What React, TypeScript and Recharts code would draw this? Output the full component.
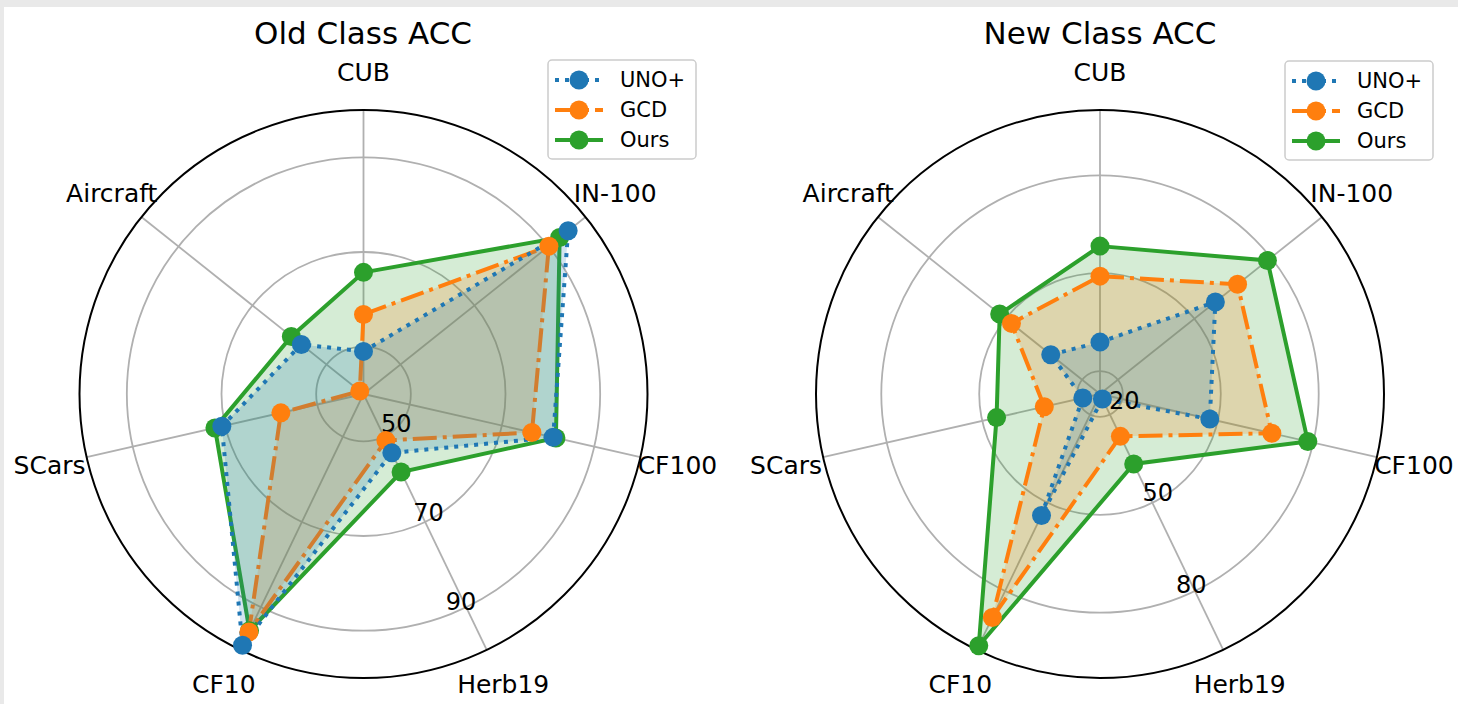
import React from "react";
import { RadarChart, Radar, PolarGrid, PolarAngleAxis, PolarRadiusAxis } from "recharts";

const categories = ["CUB", "IN-100", "CF100", "Herb19", "CF10", "SCars", "Aircraft"];

// Old Class ACC
const oldUno = [49.0, 95.3, 81.1, 53.8, 98.9, 70.7, 56.8];
const oldGcd = [56.8, 90.1, 76.5, 50.9, 95.8, 57.9, 41.0];
const oldOurs = [65.7, 93.0, 81.7, 58.3, 95.5, 72.2, 59.5];
const oldTicks = [50, 70, 90];
const oldDomain = [40, 100];

// New Class ACC
const newUno = [28.9, 58.2, 47.5, 14.7, 54.3, 18.4, 32.3];
const newGcd = [49.1, 66.9, 67.0, 27.4, 89.0, 30.5, 47.7];
const newOurs = [58.3, 78.6, 78.3, 36.8, 98.6, 45.5, 52.3];
const newTicks = [20, 50, 80];
const newDomain = [13.3, 100];

const FONT = "'DejaVu Sans', sans-serif";

// drawn in this order, so UNO+ ends up on top
const SERIES = [
  { key: "ours", name: "Ours", color: "#2ca02c", dash: undefined as string | undefined },
  { key: "gcd", name: "GCD", color: "#ff7f0e", dash: "24 6 4 6" },
  { key: "uno", name: "UNO+", color: "#1f77b4", dash: "4 6" },
];
const LEGEND_ORDER = ["uno", "gcd", "ours"];

function buildRows(uno: number[], gcd: number[], ours: number[]) {
  return categories.map((name, i) => ({ name, uno: uno[i], gcd: gcd[i], ours: ours[i] }));
}

const AngleTick = (props: any) => {
  const { x, y, payload } = props;
  return (
    <text x={x} y={y} textAnchor="middle" dominantBaseline="central" fontSize={25} fontFamily={FONT} fill="#000">
      {payload.value}
    </text>
  );
};

const RadiusTick = (props: any) => {
  const { x, y, payload } = props;
  return (
    <text x={x + 16.5} y={y - 14.5} textAnchor="middle" dominantBaseline="central" fontSize={24} fontFamily={FONT} fill="#000">
      {payload.value}
    </text>
  );
};

function RadarPanel({ data, domain, ticks, left, cx }: any) {
  return (
    <div style={{ position: "absolute", left, top: 0, width: 729, height: 704 }}>
      <RadarChart
        width={729}
        height={704}
        data={data}
        cx={cx}
        cy={394}
        outerRadius={284}
        startAngle={90}
        endAngle={-270}
        margin={{ top: 0, right: 0, bottom: 0, left: 0 }}
      >
        <PolarGrid gridType="circle" stroke="#b0b0b0" strokeWidth={1.8} />
        <PolarAngleAxis
          dataKey="name"
          axisLineType="circle"
          axisLine={{ stroke: "#000", strokeWidth: 2 }}
          tickLine={false}
          tickSize={38}
          tick={<AngleTick />}
        />
        <PolarRadiusAxis
          type="number"
          domain={domain}
          ticks={ticks}
          angle={-70}
          axisLine={false}
          tickLine={false}
          tick={<RadiusTick />}
        />
        {SERIES.map((s) => (
          <Radar
            key={s.key}
            dataKey={s.key}
            name={s.name}
            stroke={s.color}
            strokeWidth={4}
            strokeDasharray={s.dash}
            fill={s.color}
            fillOpacity={0.2}
            dot={{ r: 9.5, fill: s.color, stroke: "none", fillOpacity: 1, strokeDasharray: "none" }}
            activeDot={false}
            isAnimationActive={false}
          />
        ))}
      </RadarChart>
    </div>
  );
}

function Legend({ x, y }: { x: number; y: number }) {
  return (
    <g>
      <rect x={x} y={y} width={148} height={99} rx={4} fill="#fff" fillOpacity={0.8} stroke="#cccccc" strokeWidth={1.5} />
      {LEGEND_ORDER.map((k, i) => {
        const s = SERIES.find((d) => d.key === k)!;
        const ly = y + 20 + i * 30;
        return (
          <g key={k}>
            <line x1={x + 7} x2={x + 55} y1={ly} y2={ly} stroke={s.color} strokeWidth={4} strokeDasharray={s.dash} />
            <circle cx={x + 31} cy={ly} r={9.5} fill={s.color} />
            <text x={x + 72} y={ly} dominantBaseline="central" fontSize={21} fontFamily={FONT} fill="#000">
              {s.name}
            </text>
          </g>
        );
      })}
    </g>
  );
}

export default function App() {
  const oldRows = buildRows(oldUno, oldGcd, oldOurs);
  const newRows = buildRows(newUno, newGcd, newOurs);
  return (
    <div style={{ position: "absolute", left: 0, top: 0, width: 1458, height: 704, background: "#e9e9e9", overflow: "hidden" }}>
      <div style={{ position: "absolute", left: 4, top: 7, right: 0, bottom: 0, background: "#fff" }} />
      <RadarPanel data={oldRows} domain={oldDomain} ticks={oldTicks} left={0} cx={363.5} />
      <RadarPanel data={newRows} domain={newDomain} ticks={newTicks} left={729} cx={371} />
      <svg width={1458} height={704} style={{ position: "absolute", left: 0, top: 0, pointerEvents: "none" }}>
        <text x={363} y={33} textAnchor="middle" dominantBaseline="central" fontSize={31} fontFamily={FONT} fill="#000">
          Old Class ACC
        </text>
        <text x={1100} y={33} textAnchor="middle" dominantBaseline="central" fontSize={31} fontFamily={FONT} fill="#000">
          New Class ACC
        </text>
        <Legend x={548} y={60} />
        <Legend x={1285} y={61} />
      </svg>
    </div>
  );
}
